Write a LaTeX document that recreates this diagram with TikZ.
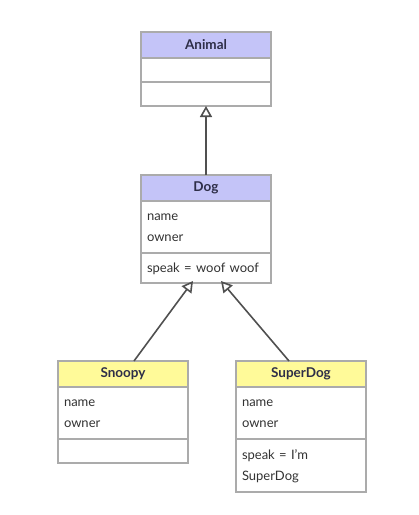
\documentclass[tikz,border=0pt]{standalone}
\usepackage{fontspec}
\setmainfont{Lato}
\usetikzlibrary{arrows.meta,positioning,calc}

\definecolor{hdrblue}{HTML}{C4C4F8}
\definecolor{hdryellow}{HTML}{FFFA99}
\definecolor{boxline}{HTML}{ABABAB}
\definecolor{hdrtext}{HTML}{2E2E48}
\definecolor{bodytext}{HTML}{333333}
\definecolor{arrowline}{HTML}{505050}

\tikzset{
  classhead/.style={draw=boxline, line width=1.5pt, minimum width=130pt, minimum height=26pt,
    inner sep=0pt, outer sep=0pt, text=hdrtext, font=\fontsize{13.5}{15}\selectfont\bfseries},
  classbody/.style={draw=boxline, line width=1.5pt, fill=white, text width=118pt, inner xsep=6pt,
    inner ysep=0pt, outer sep=0pt, align=left, text=bodytext, font=\fontsize{13}{21}\selectfont,
    execute at begin node=\strut, execute at end node=\strut},
  inherit/.style={-{Triangle[open, length=11pt, width=12pt]}, draw=arrowline, line width=1.6pt}
}

\begin{document}
\begin{tikzpicture}[x=1pt, y=-1pt]
    \useasboundingbox (0,0) rectangle (419,515);
    % Animal
    \node[classhead, fill=hdrblue] (animal) at (206,45) {Animal};
    \node[classbody, minimum height=24pt, below=0pt of animal] (animalattr) {};
    \node[classbody, minimum height=24pt, below=0pt of animalattr] (animalops) {};
    % Dog
    \node[classhead, fill=hdrblue] (dog) at (206,188) {Dog};
    \node[classbody, minimum height=52pt, below=0pt of dog] (dogattr) {name\\owner};
    \node[classbody, minimum height=30pt, below=0pt of dogattr] (dogops) {speak = woof woof};
    % Snoopy
    \node[classhead, fill=hdryellow] (snoopy) at (123,374) {Snoopy};
    \node[classbody, minimum height=52pt, below=0pt of snoopy] (snoopyattr) {name\\owner};
    \node[classbody, minimum height=24pt, below=0pt of snoopyattr] (snoopyops) {};
    % SuperDog
    \node[classhead, fill=hdryellow] (superdog) at (301,374) {SuperDog};
    \node[classbody, minimum height=52pt, below=0pt of superdog] (superdogattr) {name\\owner};
    \node[classbody, minimum height=53pt, below=0pt of superdogattr] (superdogops) {speak = I’m\\SuperDog};

    % Generalisation arrows
    \draw[inherit] (dog) -- (animalops);
    \draw[inherit] ([xshift=11pt]snoopy.north) -- ([xshift=-13pt, yshift=2pt]dogops.south);
    \draw[inherit] ([xshift=-12pt]superdog.north) -- ([xshift=15pt, yshift=2pt]dogops.south);
\end{tikzpicture}
\end{document}
